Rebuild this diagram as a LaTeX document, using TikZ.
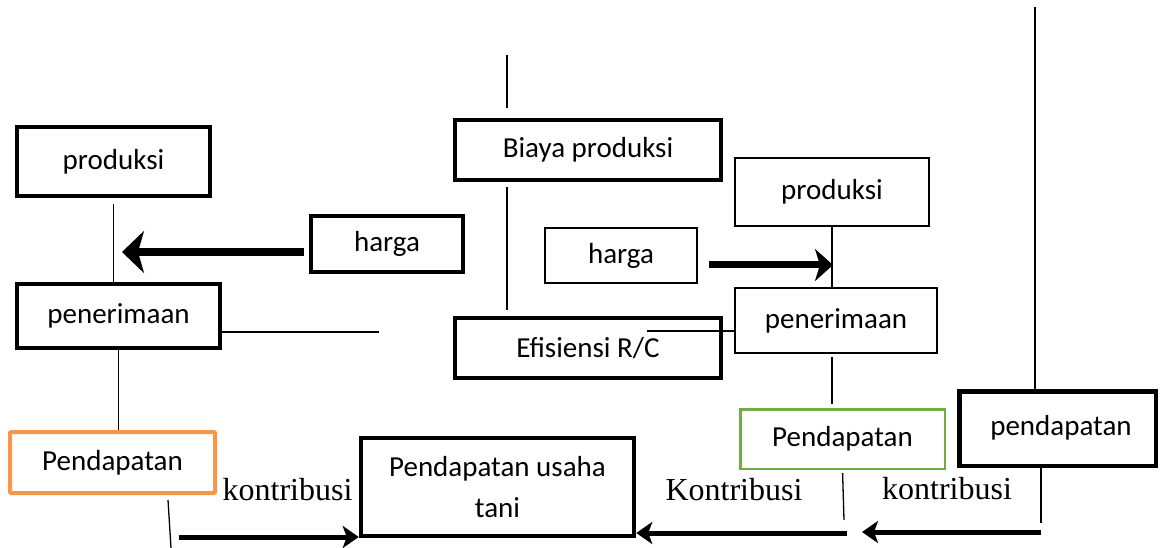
\documentclass[tikz,border=0pt]{standalone}
\usepackage{fontspec}
\setmainfont{Carlito}
\newfontfamily\tms{Liberation Serif}
\usetikzlibrary{arrows.meta}
\definecolor{orangeb}{HTML}{F79646}
\definecolor{greenb}{HTML}{70AD47}
\tikzset{
  boxtxt/.style={font=\fontsize{29pt}{41pt}\selectfont, inner sep=0pt, align=center},
  thickbox/.style={boxtxt, draw=black, line width=4.5pt},
  thinbox/.style={boxtxt, draw=black, line width=2pt},
  orangebox/.style={boxtxt, draw=orangeb, line width=4pt, rounded corners=1pt},
  greenbox/.style={boxtxt, draw=greenb, line width=2.5pt},
  conn/.style={draw=black, line width=1.3pt},
  bigarrow/.style={draw=black, line width=8pt, -{Stealth[length=22pt,width=42pt,inset=6pt]}},
  midarrow/.style={draw=black, line width=7pt, -{Stealth[length=18pt,width=32pt,inset=5pt]}},
  botarrow/.style={draw=black, line width=5pt, -{Stealth[length=16pt,width=22pt,inset=4pt]}},
  lbl/.style={font=\tms\fontsize{32pt}{38pt}\selectfont, inner sep=0pt, anchor=base}
}
\begin{document}
\begin{tikzpicture}[x=1pt,y=-1pt]
\useasboundingbox[fill=white] (0,0) rectangle (1160,548);
% boxes
\node[thickbox, minimum width=193pt, minimum height=69pt] (prodL) at (113.5,161.5) {produksi};
\node[thickbox, minimum width=152pt, minimum height=56pt] (hargaL) at (387,244) {harga};
\node[thickbox, minimum width=203pt, minimum height=64pt] (penL) at (118.5,316) {penerimaan};
\node[orangebox, minimum width=205pt, minimum height=61pt] (pendO) at (112.5,462.5) {Pendapatan};
\node[thickbox, minimum width=273pt, minimum height=98pt] (tani) at (497.5,487) {Pendapatan usaha\\tani};
\node[thickbox, minimum width=266pt, minimum height=60pt] (biaya) at (588,150) {Biaya produksi};
\node[thickbox, minimum width=266pt, minimum height=60pt] (efis) at (588,348) {Efisiensi R/C};
\node[thinbox, minimum width=152pt, minimum height=55pt] (hargaM) at (621,255.5) {harga};
\node[thinbox, minimum width=194pt, minimum height=68pt] (prodR) at (832,192) {produksi};
\node[thinbox, minimum width=202pt, minimum height=65pt] (penR) at (836,320.5) {\raisebox{4pt}{penerimaan}};
\node[greenbox, minimum width=204.5pt, minimum height=59.5pt] (pendG) at (842.5,439) {Pendapatan};
\node[thickbox, minimum width=196.5pt, minimum height=74.5pt] (pendR) at (1057.5,428.5) {\hspace*{7pt}\raisebox{7pt}{pendapatan}};
% labels
\node[lbl] (kon1) at (287.5,500) {kontribusi};
\node[lbl] (kon2) at (734,500) {Kontribusi};
\node[lbl] (kon3) at (947,499) {kontribusi};
% free ends
\coordinate (a1) at (122,252);
\coordinate (f3) at (379,332);
\coordinate (f5a) at (168,500);
\coordinate (f5b) at (171,548);
\coordinate (k1s) at (179,537);
\coordinate (f7) at (507,55);
\coordinate (f9) at (647,331);
\coordinate (a10) at (833,265);
\coordinate (f13) at (844,520);
\coordinate (k2s) at (847,533);
\coordinate (f15) at (1035,7);
\coordinate (f16) at (1041,523);
\coordinate (k3s) at (1041,532);
\coordinate (k3e) at (862,532);
% connectors
\draw[conn, shorten <=6pt] (prodL.south) -- (prodL.south |- penL.north);
\draw[bigarrow, shorten <=5pt] (hargaL.west |- a1) -- (a1);
\draw[conn] (penL.east |- f3) -- (f3);
\draw[conn] (penL.south) -- (penL.south |- pendO.north);
\draw[conn] (f5a) -- (f5b);
\draw[botarrow] (k1s) -- (k1s -| tani.west);
\draw[conn, shorten >=10pt] (f7) -- (f7 |- biaya.north);
\draw[conn, shorten <=5pt, shorten >=6pt] (biaya.south -| f7) -- (efis.north -| f7);
\draw[conn] (f9) -- (f9 -| penR.west);
\draw[midarrow, shorten <=11pt] (hargaM.east |- a10) -- (a10);
\draw[conn] (prodR.south) -- (prodR.south |- penR.north);
\draw[conn, shorten <=3pt, shorten >=4pt] (penR.south -| prodR.south) -- (pendG.north -| prodR.south);
\draw[conn, shorten <=3pt] (pendG.south) -- (f13);
\draw[botarrow] (k2s) -- (k2s -| tani.east);
\draw[conn] (f15) -- (f15 |- pendR.north);
\draw[conn] (f16 |- pendR.south) -- (f16);
\draw[botarrow] (k3s) -- (k3e);
\end{tikzpicture}
\end{document}
